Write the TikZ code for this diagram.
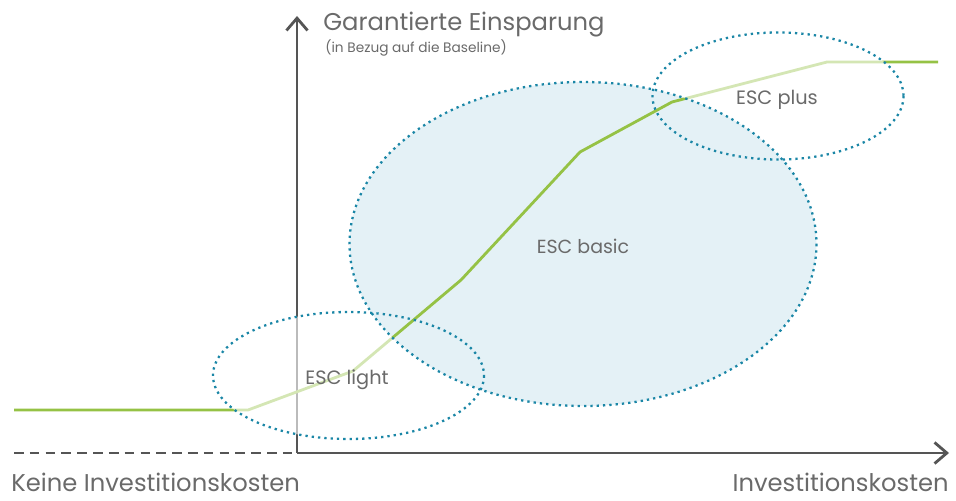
\documentclass[tikz,border=0pt]{standalone}
\usepackage{fontspec}
\setmainfont{Poppins}
\usetikzlibrary{arrows.meta,positioning}
\definecolor{achsgrau}{HTML}{555555}
\definecolor{textgrau}{HTML}{6A6A6A}
\definecolor{gruen}{HTML}{95C245}
\definecolor{punktblau}{HTML}{1A86A6}
\definecolor{basicblau}{HTML}{E4F1F6}
\tikzset{
  achse/.style={draw=achsgrau,line width=1.6pt},
  kurve/.style={draw=gruen,line width=1.6pt},
  punktiert/.style={draw=punktblau,line width=1.3pt,dash pattern=on 1.3pt off 2.3pt},
  beschriftung/.style={text=textgrau,inner sep=0pt}
}
\begin{document}
\begin{tikzpicture}[x=0.02cm,y=-0.02cm,line join=round]
\useasboundingbox (0,0) rectangle (956,500);
% Achsen
\coordinate (O) at (297,453);
\coordinate (Y) at (297,16);
\coordinate (X) at (949,453);
\coordinate (L) at (14,453);
% Ellipsen
\coordinate (Clight) at (348.5,375.5);
\coordinate (Cbasic) at (583,244);
\coordinate (Cplus)  at (778,96);
% Kurve
\coordinate (P0) at (14,410);
\coordinate (P1) at (248,410);
\coordinate (P2) at (353,371);
\coordinate (P3) at (461,280);
\coordinate (P4) at (580,152);
\coordinate (P5) at (672,102);
\coordinate (P6) at (827,62);
\coordinate (P7) at (938,62);
\draw[achse,-{Straight Barb[length=7pt,width=12pt]}] (O)--(Y);
\draw[achse,-{Straight Barb[length=7pt,width=12pt]}] (O)--(X);
\draw[achse,line width=1.4pt,dash pattern=on 5.5pt off 3.5pt] (L)--(O);
\draw[kurve] (P0)--(P1)--(P2)--(P3)--(P4)--(P5)--(P6)--(P7);
\fill[white,opacity=0.6] (Clight) ellipse [x radius=135.5,y radius=63.5]
                         (Cplus) ellipse [x radius=125.5,y radius=63.5];
\fill[basicblau] (Cbasic) ellipse [x radius=233.5,y radius=162];
\begin{scope}
\clip (Cbasic) ellipse [x radius=233.5,y radius=162];
\draw[kurve] (P0)--(P1)--(P2)--(P3)--(P4)--(P5)--(P6)--(P7);
\end{scope}
\draw[punktiert] (Clight) ellipse [x radius=135.5,y radius=63.5];
\draw[punktiert] (Cbasic) ellipse [x radius=233.5,y radius=162];
\draw[punktiert] (Cplus) ellipse [x radius=125.5,y radius=63.5];
% Texte
\node[beschriftung,anchor=west,font=\fontsize{13.8}{16}\selectfont] (titel) at (323,25) {Garantierte Einsparung};
\node[beschriftung,anchor=west,font=\fontsize{7.8}{9}\selectfont] (untertitel) at (325,48) {(in Bezug auf die Baseline)};
\node[beschriftung,font=\fontsize{11}{13}\selectfont] (light) at (347,380) {ESC light};
\node[beschriftung,font=\fontsize{10.8}{13}\selectfont] (basic) at (583,246) {ESC basic};
\node[beschriftung,font=\fontsize{11}{13}\selectfont] (plus) at (777,100) {ESC plus};
\node[beschriftung,anchor=base west,font=\fontsize{13.8}{16}\selectfont] (keine) at (11,491) {Keine Investitionskosten};
\node[beschriftung,anchor=base east,font=\fontsize{13.8}{16}\selectfont] (invest) at (949,491) {Investitionskosten};
\end{tikzpicture}
\end{document}
